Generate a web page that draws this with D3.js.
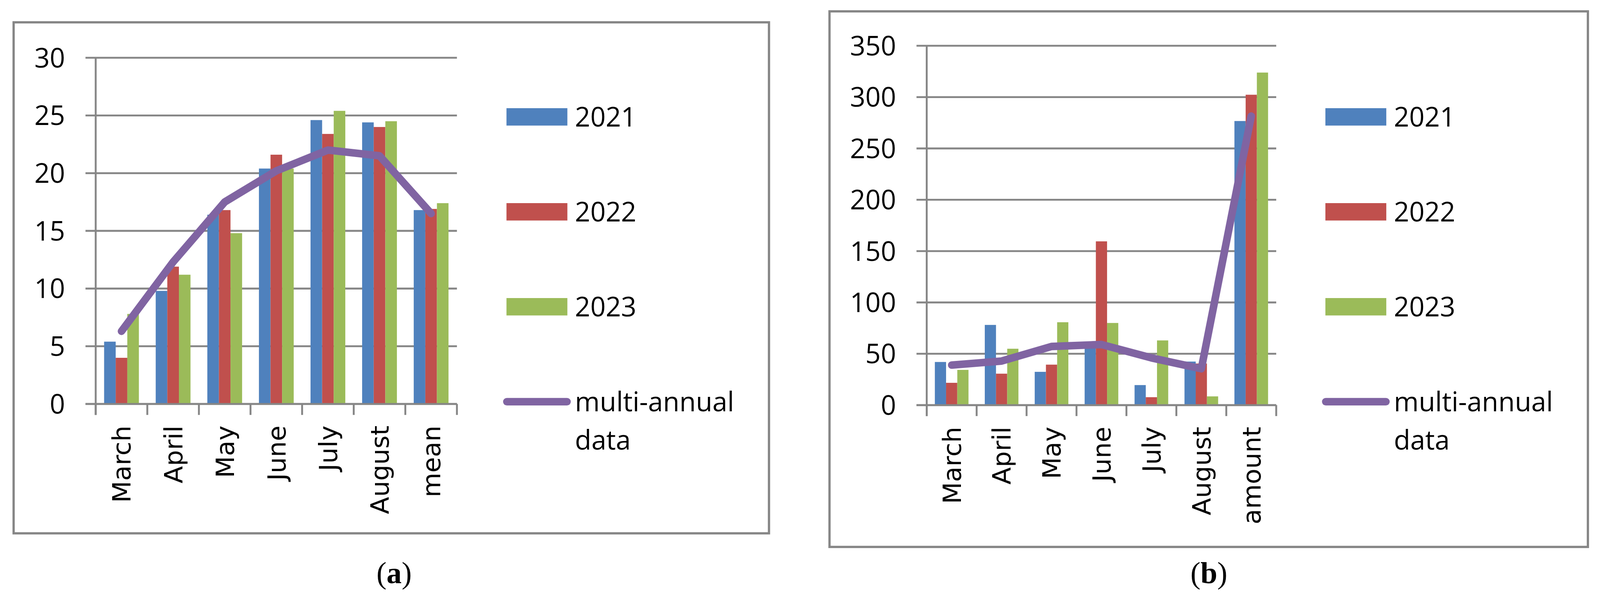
<!DOCTYPE html>
<html>
<head>
<meta charset="utf-8">
<script src="https://cdn.jsdelivr.net/npm/d3@7"></script>
<style>
html, body { margin: 0; padding: 0; background: #fff; overflow: hidden; }
#chart { width: 100vw; height: 100vh; }
svg { display: block; }
</style>
</head>
<body>
<div id="chart"></div>
<script>
// --- data ---
const seriesNames = ["2021", "2022", "2023"];
const lineLabel = ["multi-annual", "data"];

// (a) temperature
const catsA = ["March", "April", "May", "June", "July", "August", "mean"];
const temp2021 = [5.4, 9.8, 16.4, 20.4, 24.6, 24.4, 16.8];
const temp2022 = [4.0, 11.9, 16.8, 21.6, 23.4, 24.0, 16.9];
const temp2023 = [7.8, 11.2, 14.8, 20.4, 25.4, 24.5, 17.4];
const tempMulti = [6.3, 12.3, 17.5, 20.2, 22.0, 21.5, 16.5];
const ticksA = [0, 5, 10, 15, 20, 25, 30];

// (b) precipitation
const catsB = ["March", "April", "May", "June", "July", "August", "amount"];
const prec2021 = [42.0, 78.1, 32.4, 62.0, 19.5, 42.4, 276.7];
const prec2022 = [21.7, 30.6, 39.4, 159.5, 7.7, 40.5, 302.3];
const prec2023 = [34.3, 54.9, 80.7, 80.0, 63.0, 8.5, 323.9];
const precMulti = [39.0, 42.9, 57.1, 59.0, 46.0, 35.4, 281.5];
const ticksB = [0, 50, 100, 150, 200, 250, 300, 350];

const barColors = ["#4F81BD", "#C0504D", "#9BBB59"];
const lineColor = "#8064A2";
const gray = "#868686";
const tickFont = "'Open Sans', 'Liberation Sans', sans-serif";
const catFont = "'DejaVu Sans', sans-serif";

const svg = d3.select("#chart").append("svg")
	.attr("viewBox", "0 0 4230 1577")
	.attr("preserveAspectRatio", "xMinYMin meet")
	.attr("width", "100%").attr("height", "100%");

function drawPanel(p) {
	const g = svg.append("g");

	// frame
	g.append("rect")
		.attr("x", p.box[0]).attr("y", p.box[1])
		.attr("width", p.box[2]).attr("height", p.box[3])
		.attr("fill", "none").attr("stroke", gray).attr("stroke-width", 6);

	const x = d3.scaleBand().domain(p.cats).range([p.left, p.right]);
	const y = d3.scaleLinear().domain([0, p.ticks[p.ticks.length - 1]]).range([p.bottom, p.top]);
	const bw = x.bandwidth();
	const gw = bw * 0.674;
	const sub = d3.scaleBand().domain(d3.range(p.bars.length)).range([0, gw]);

	// gridlines (with outward tick)
	g.append("g").selectAll("line").data(p.ticks).join("line")
		.attr("x1", p.left - 27).attr("x2", p.right)
		.attr("y1", d => y(d)).attr("y2", d => y(d))
		.attr("stroke", gray).attr("stroke-width", 5);

	// bars
	p.bars.forEach((vals, i) => {
		g.append("g").selectAll("rect").data(vals).join("rect")
			.attr("x", (d, j) => x(p.cats[j]) + (bw - gw) / 2 + sub(i))
			.attr("width", sub.bandwidth())
			.attr("y", d => y(d))
			.attr("height", d => y(0) - y(d))
			.attr("fill", barColors[i]);
	});

	// axes lines
	g.append("line")
		.attr("x1", p.left).attr("x2", p.left)
		.attr("y1", p.top).attr("y2", p.bottom + 29)
		.attr("stroke", gray).attr("stroke-width", 5);
	g.append("line")
		.attr("x1", p.left - 27).attr("x2", p.right)
		.attr("y1", p.bottom).attr("y2", p.bottom)
		.attr("stroke", gray).attr("stroke-width", 5);
	const edges = p.cats.map(c => x(c)).concat([p.right]);
	g.append("g").selectAll("line").data(edges).join("line")
		.attr("x1", d => d).attr("x2", d => d)
		.attr("y1", p.bottom).attr("y2", p.bottom + 29)
		.attr("stroke", gray).attr("stroke-width", 5);

	// multi-annual line
	const line = d3.line()
		.x((d, j) => x(p.cats[j]) + bw / 2)
		.y(d => y(d));
	g.append("path").datum(p.multi)
		.attr("d", line)
		.attr("fill", "none").attr("stroke", lineColor).attr("stroke-width", 20)
		.attr("stroke-linecap", "round").attr("stroke-linejoin", "round");

	// y tick labels
	g.append("g").selectAll("text").data(p.ticks).join("text")
		.attr("x", p.left - 81).attr("y", d => y(d)).attr("dy", "0.36em")
		.attr("text-anchor", "end")
		.attr("font-family", tickFont).attr("font-size", 71)
		.text(d => d);

	// category labels, rotated
	g.append("g").selectAll("text").data(p.cats).join("text")
		.attr("transform", d => "translate(" + (x(d) + bw / 2) + "," + (p.bottom + 57) + ") rotate(-90)")
		.attr("dy", "0.36em")
		.attr("text-anchor", "end")
		.attr("font-family", catFont).attr("font-size", 67)
		.text(d => d);

	// legend
	const rows = [309, 560, 811, 1062];
	seriesNames.forEach((s, i) => {
		g.append("rect")
			.attr("x", p.legX).attr("y", rows[i] - 23)
			.attr("width", 161).attr("height", 46)
			.attr("fill", barColors[i]);
		g.append("text")
			.attr("x", p.legX + 181).attr("y", rows[i]).attr("dy", "0.36em")
			.attr("font-family", tickFont).attr("font-size", 71)
			.text(s);
	});
	g.append("line")
		.attr("x1", p.legX + 1).attr("x2", p.legX + 160)
		.attr("y1", rows[3]).attr("y2", rows[3])
		.attr("stroke", lineColor).attr("stroke-width", 20).attr("stroke-linecap", "round");
	const lt = g.append("text")
		.attr("font-family", tickFont).attr("font-size", 71);
	lineLabel.forEach((t, i) => {
		lt.append("tspan")
			.attr("x", p.legX + 181)
			.attr("y", rows[3] + 25 + i * 102)
			.text(t);
	});

	// caption
	const cap = g.append("text")
		.attr("x", p.capX).attr("y", 1542)
		.attr("text-anchor", "middle")
		.attr("font-family", "'Liberation Serif', 'Times New Roman', serif")
		.attr("font-size", 80);
	cap.append("tspan").text("(");
	cap.append("tspan").attr("font-weight", "bold").text(p.letter);
	cap.append("tspan").text(")");
}

drawPanel({
	box: [36, 59, 1997, 1351],
	left: 253, right: 1208, top: 152.7, bottom: 1068,
	cats: catsA, ticks: ticksA,
	bars: [temp2021, temp2022, temp2023], multi: tempMulti,
	legX: 1339, capX: 1042, letter: "a"
});

drawPanel({
	box: [2193, 30, 2005, 1416],
	left: 2450, right: 3374, top: 121, bottom: 1071,
	cats: catsB, ticks: ticksB,
	bars: [prec2021, prec2022, prec2023], multi: precMulti,
	legX: 3504, capX: 3196, letter: "b"
});
</script>
</body>
</html>
